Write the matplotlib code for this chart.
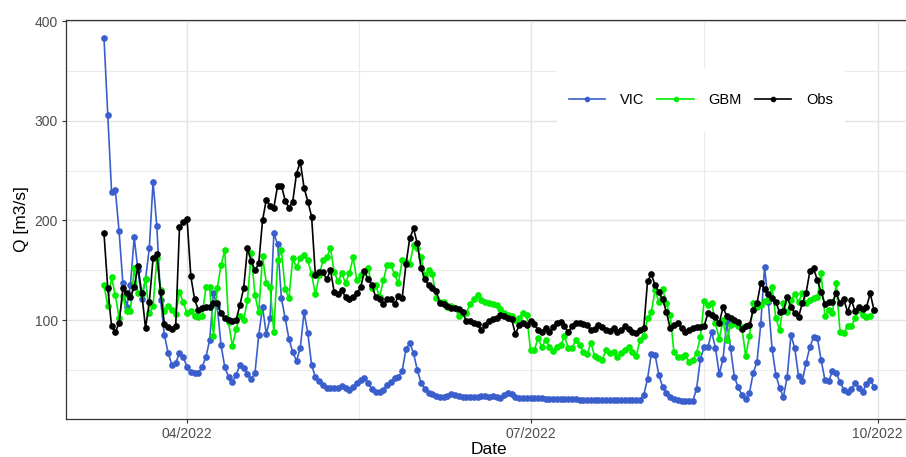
import numpy as np
import pandas as pd
import matplotlib
matplotlib.use("Agg")
import matplotlib.pyplot as plt
import matplotlib.dates as mdates
from matplotlib.patches import Rectangle

plt.rcParams["font.family"] = ["Liberation Sans", "DejaVu Sans"]

# daily discharge, 10 Mar - 30 Sep 2022
dates = pd.date_range("2022-03-10", "2022-09-30", freq="D")

vic = [
    383, 306, 229, 231, 189, 137, 113, 135, 183, 150, 121, 141, 172, 239, 194, 120, 85, 67, 55, 57,
    67, 63, 53, 48, 47, 47, 53, 63, 80, 127, 114, 75, 53,
    43, 38, 45, 55, 52, 46, 41, 47, 85, 113, 86, 102, 187, 176, 122, 102, 81, 68, 59, 72, 108, 87,
    55, 43, 39, 35, 32, 32, 32, 32, 34, 32, 30, 33,
    37, 40, 42, 37, 31, 28, 28, 30, 35, 38, 42, 43, 49, 71, 77, 67, 50, 37, 31,
    27, 26, 24, 23, 23, 24, 26, 25, 24, 23, 23, 23, 23, 23,
    24, 24, 23, 24, 23, 22, 25, 27, 26, 23, 22, 22, 22, 22, 22, 22, 22, 21, 21, 21, 21, 21, 21, 21,
    21, 21, 20, 20, 20, 20, 20, 20, 20,
    20, 20, 20, 20, 20, 20, 20, 20, 20, 20,
    25, 41, 66, 65, 45, 33, 27, 23, 21, 20, 19, 19, 19, 19, 31, 61, 73, 73, 88, 72, 46, 61, 98, 72,
    43, 33, 25, 21, 27, 47, 58, 96, 153,
    118, 71, 45, 32, 23, 43, 85, 72, 44, 39, 57, 73, 83, 82, 60, 40, 39, 49, 47, 38, 30, 28, 31, 37,
    32, 28, 36, 40, 33,
]

gbm = [
    135, 114, 143, 125, 102, 124, 109, 109, 152, 127, 126, 141, 107, 114, 162, 130, 109, 114, 110, 106,
    128, 118, 107, 109, 104, 103, 104, 133, 133, 84, 132, 155, 170,
    98, 74, 91, 104, 100, 120, 167, 125, 108, 164, 137, 133, 88, 160, 170, 131, 122, 162, 153, 162,
    165, 160, 146, 126, 145, 160, 163, 172, 148, 139, 147, 137, 147, 163,
    140, 145, 148, 152, 132, 135, 123, 140, 155, 155, 146, 137, 160, 158, 156, 175, 172, 163, 145, 150,
    146, 122, 118, 118, 113, 114, 112, 104, 107, 107, 116, 121, 125,
    120, 118, 117, 116, 115, 111, 107, 105, 104, 100, 102, 107, 105, 70, 70, 82, 73, 80, 73, 69,
    73, 75, 84, 72, 72, 80, 75, 68, 66, 77, 64, 62, 60,
    70, 67, 68, 63, 67, 70, 73, 68, 64, 80, 84, 102, 108, 130, 118, 131, 117, 105, 68, 63,
    63, 65, 58, 60, 67, 83, 119, 115, 117, 97, 81, 100, 80,
    95, 97, 94, 93, 64,
    84, 117, 113, 115, 119, 120, 133, 102, 90, 117, 108, 120, 126, 118, 127, 117, 120, 122, 123, 147,
    104, 110, 107, 137, 88, 87, 94, 94, 102, 110, 105, 103, 104, 110,
]

obs = [
    187, 132, 94, 88, 97, 132, 127, 123, 133, 154, 127, 92, 118, 162, 166, 128, 96, 93, 91, 94,
    193, 198, 202,
    144, 121, 110, 112, 113, 113, 117, 117, 107, 102, 100, 99, 100, 115, 132, 172, 159, 150, 157, 200,
    221, 215, 213, 235, 235, 220, 213, 219, 247, 259, 233, 219, 204,
    145, 148, 148, 141, 150, 128, 126, 130, 123, 121, 123,
    127, 133, 149, 141, 135, 123, 121, 116, 121, 121, 116, 124, 122, 156, 182, 192, 177, 152, 141, 135,
    132, 129, 117, 116, 114, 112, 112, 111, 108, 99, 99, 97, 96,
    90, 95, 99, 101, 102, 105, 104, 102, 101, 86, 95, 97, 95, 99, 96, 90, 88, 92, 88, 93,
    97, 98, 94, 88, 94, 97, 97, 96, 95, 90, 91, 95, 93,
    90, 89, 92, 88, 90, 94, 91, 88, 87, 90, 92, 139, 146, 135, 128, 121, 108, 92, 95, 97,
    92, 88, 90, 92, 93, 93, 94, 107, 105, 103, 97, 113, 104,
    102, 100, 98, 91, 94, 95, 110, 117, 137, 131, 126, 122, 118, 108, 109, 123, 113, 107, 103, 117,
    127, 149, 152, 140, 128, 116, 118, 118, 127, 117, 121, 108, 120, 109, 113, 111, 113, 127, 110,
]

series_names = ["VIC", "GBM", "Obs"]
series_values = [vic, gbm, obs]
series_colors = ["#3A5FCD", "#00EE00", "#000000"]

x_major = pd.to_datetime(["2022-04-01", "2022-07-01", "2022-10-01"])
y_major = [100, 200, 300, 400]
y_minor = [50, 150, 250, 350]

# ---- figure -----------------------------------------------------------
W, H = 906, 457
fig = plt.figure(figsize=(W / 100, H / 100), dpi=100)
fig.patch.set_facecolor("white")
ax = fig.add_axes([65.5 / W, 38 / H, 847 / W, 399 / H])

for name, vals, col in zip(series_names, series_values, series_colors):
    ax.plot(dates, vals, color=col, lw=1.2, marker="o", ms=3.8,
            mec=col, mfc=col, label=name, zorder=3)

# ggplot-like 5% expansion
span = dates[-1] - dates[0]
ax.set_xlim(dates[0] - 0.05 * span, dates[-1] + 0.05 * span)
allv = np.concatenate([np.asarray(v, float) for v in series_values])
rng = allv.max() - allv.min()
ax.set_ylim(allv.min() - 0.05 * rng, allv.max() + 0.05 * rng)

x_minor = [x_major[i] + (x_major[i + 1] - x_major[i]) / 2 for i in range(len(x_major) - 1)]
ax.set_xticks(x_major)
ax.set_xticks(x_minor, minor=True)
ax.xaxis.set_major_formatter(mdates.DateFormatter("%m/%Y"))
ax.set_yticks(y_major)
ax.set_yticks(y_minor, minor=True)

ax.grid(which="major", color="#E3E3E3", lw=1.0)
ax.grid(which="minor", color="#EBEBEB", lw=0.8)
ax.set_axisbelow(True)

for s in ax.spines.values():
    s.set_color("#333333")
    s.set_linewidth(0.9)

ax.tick_params(which="major", direction="out", length=3, width=0.8, color="#333333",
               labelcolor="#4D4D4D", labelsize=10, pad=2.5)
ax.tick_params(which="minor", length=0)

ax.set_xlabel("Date", fontsize=12.5, labelpad=1)
ax.set_ylabel("Q [m3/s]", fontsize=12.5, labelpad=4)

# legend on a white box (covers the grid, like ggplot's legend background)
ax.add_patch(Rectangle((557, H - 132), 288, 64, transform=None, facecolor="white",
                       edgecolor="none", zorder=1))
ax.legend(loc="center", bbox_to_anchor=(0.75, 0.80), ncol=3, frameon=False,
          fontsize=10.5, handlelength=2.5, handletextpad=1.0, columnspacing=0.9,
          numpoints=1, markerscale=0.8)

fig.savefig("out.png", dpi=100, facecolor="white")
